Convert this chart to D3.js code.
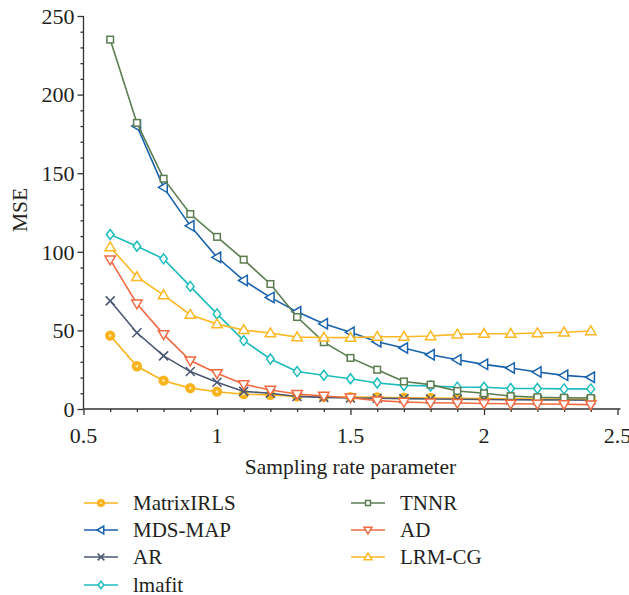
<!DOCTYPE html>
<html>
<head>
<meta charset="utf-8">
<script src="https://cdn.jsdelivr.net/npm/d3@7"></script>
<style>
  html, body { margin: 0; padding: 0; background: #fff; }
  svg { display: block; }
  text { font-family: "Liberation Serif", "DejaVu Serif", serif; fill: #231f20; }
</style>
</head>
<body>
<svg id="chart" width="629" height="595"></svg>
<script>
// Sampling rate parameter values (x) shared by all series
const rates = [0.6, 0.7, 0.8, 0.9, 1.0, 1.1, 1.2, 1.3, 1.4, 1.5, 1.6, 1.7, 1.8, 1.9, 2.0, 2.1, 2.2, 2.3, 2.4];

// MSE per method (null = not measured)
const matrixIRLS = [46.7, 27.2, 18, 13.3, 11, 9.4, 9, 8, 7.8, 7.6, 7.4, 7.2, 7, 6.8, 6.6, 6.5, 6.4, 6.3, 6.2];
const mdsMap     = [null, 180, 141, 116.5, 96.5, 81.8, 71, 61.8, 54.2, 48.8, 42.8, 38.8, 34.5, 31.3, 28.4, 26.1, 23.5, 21.4, 20.2];
const ar         = [68.8, 48.5, 33.8, 23.8, 17, 11.2, 10, 8, 7.4, 7, 6.8, 6.6, 6.4, 6.2, 6, 5.9, 5.8, 5.7, 5.6];
const lmafit     = [111, 103.5, 95.5, 78, 60.5, 43.5, 31.8, 23.8, 21.5, 19.2, 16.5, 15, 14.6, 13.9, 13.8, 13, 13, 12.8, 12.8];
const tnnr       = [235, 182, 146.5, 124, 109.5, 95, 79.5, 58.5, 42.5, 32.5, 25, 17.5, 15.5, 11.5, 10, 8.2, 7.5, 7.2, 7];
const ad         = [95, 67, 47.5, 30.8, 22.7, 15.7, 12.1, 9.5, 8.3, 7.2, 5.3, 4.5, 4, 3.8, 3.5, 3.3, 3.2, 3, 2.8];
const lrmCG      = [103, 84, 72.5, 60, 54, 50.3, 48.3, 45.7, 45.5, 45.4, 46, 46, 46.4, 47.5, 47.9, 47.9, 48.3, 48.8, 49.6];

// Axis tick labels
const xTicks = [0.5, 1, 1.5, 2, 2.5];
const yTicks = [0, 50, 100, 150, 200, 250];

const seriesNames = ["MatrixIRLS", "MDS-MAP", "AR", "lmafit", "TNNR", "AD", "LRM-CG"];
const seriesValues = [matrixIRLS, mdsMap, ar, lmafit, tnnr, ad, lrmCG];
const seriesColors = ["#f9b31c", "#1861ad", "#4b5873", "#1cbcbc", "#5b7d4f", "#f26a43", "#fbb824"];
const seriesMarkers = ["circle", "triLeft", "cross", "diamond", "square", "triDown", "triUp"];

const svg = d3.select("#chart");
const x = d3.scaleLinear().domain([0.5, 2.5]).range([83.5, 617.5]);
const y = d3.scaleLinear().domain([0, 250]).range([409, 16]);

const axisColor = "#333";

// Y axis: major ticks every 50, minor every 10
const yAxis = svg.append("g").attr("transform", `translate(${x(0.5)},0)`);
yAxis.call(d3.axisLeft(y).tickValues(d3.range(0, 251, 10)).tickSize(3).tickFormat(""));
yAxis.call(g => g.selectAll(".tick").filter(d => d % 50 === 0).select("line").attr("x2", -6));
yAxis.selectAll("line, path").attr("stroke", axisColor).attr("stroke-width", 1.3);
yAxis.select(".domain").attr("d", `M0,${y(0)}V${y(250)}`);
svg.append("g").selectAll("text").data(yTicks).join("text")
  .attr("x", x(0.5) - 9).attr("y", d => y(d)).attr("dy", "0.35em")
  .attr("text-anchor", "end").attr("font-size", 22).text(d => d);

// X axis: major ticks every 0.5, minor every 0.1
const xAxis = svg.append("g").attr("transform", `translate(0,${y(0)})`);
xAxis.call(d3.axisBottom(x).tickValues(d3.range(5, 26).map(v => v / 10)).tickSize(3).tickFormat(""));
xAxis.call(g => g.selectAll(".tick").filter(d => Math.abs(d * 2 - Math.round(d * 2)) < 1e-6).select("line").attr("y2", 6));
xAxis.selectAll("line, path").attr("stroke", axisColor).attr("stroke-width", 1.3);
xAxis.select(".domain").attr("d", `M${x(0.5)},0H${x(2.5) + 3}`);
svg.append("g").selectAll("text").data(xTicks).join("text")
  .attr("x", d => x(d)).attr("y", 443)
  .attr("text-anchor", "middle").attr("font-size", 22).text(d => d);

// Axis titles
svg.append("text").attr("x", x(1.5)).attr("y", 474).attr("text-anchor", "middle")
  .attr("font-size", 21.5).text("Sampling rate parameter");
svg.append("text").attr("transform", `translate(27,210) rotate(-90)`).attr("text-anchor", "middle")
  .attr("font-size", 21.5).text("MSE");

// Marker drawing
function drawMarker(g, type, color, s) {
  const sw = 1.5;
  switch (type) {
    case "circle":
      g.append("circle").attr("r", 4.4 * s).attr("fill", color).attr("stroke", color).attr("stroke-width", sw);
      g.append("circle").attr("r", 1.4 * s).attr("fill", "#fde7a8");
      break;
    case "square":
      g.append("rect").attr("x", -3.3 * s).attr("y", -3.3 * s).attr("width", 6.6 * s).attr("height", 6.6 * s)
        .attr("fill", "#fff").attr("stroke", color).attr("stroke-width", sw);
      break;
    case "diamond": {
      const a = 5 * s, b = 3.8 * s;
      g.append("path").attr("d", `M0,${-a}L${b},0L0,${a}L${-b},0Z`)
        .attr("fill", "#fff").attr("stroke", color).attr("stroke-width", sw);
      break;
    }
    case "cross": {
      const a = 4.5 * s;
      g.append("path").attr("d", `M${-a},${-a}L${a},${a}M${-a},${a}L${a},${-a}`)
        .attr("fill", "none").attr("stroke", color).attr("stroke-width", sw);
      break;
    }
    case "triUp": {
      const a = 5.2 * s;
      g.append("path").attr("d", `M0,${-a}L${a},${a * 0.7}L${-a},${a * 0.7}Z`)
        .attr("fill", "#fff").attr("stroke", color).attr("stroke-width", sw);
      break;
    }
    case "triDown": {
      const a = 5.2 * s;
      g.append("path").attr("d", `M0,${a}L${a},${-a * 0.7}L${-a},${-a * 0.7}Z`)
        .attr("fill", "#fff").attr("stroke", color).attr("stroke-width", sw);
      break;
    }
    case "triLeft": {
      const a = 5.2 * s;
      g.append("path").attr("d", `M${-a},0L${a * 0.7},${-a}L${a * 0.7},${a}Z`)
        .attr("fill", "#fff").attr("stroke", color).attr("stroke-width", sw);
      break;
    }
  }
}

// Series lines and markers
const line = d3.line().defined(d => d[1] != null).x(d => x(d[0])).y(d => y(d[1]));
const plot = svg.append("g");
seriesValues.forEach((vals, i) => {
  const pts = rates.map((r, j) => [r, vals[j]]);
  const g = plot.append("g");
  g.append("path").datum(pts).attr("d", line)
    .attr("fill", "none").attr("stroke", seriesColors[i]).attr("stroke-width", 1.6);
  pts.filter(p => p[1] != null).forEach(p => {
    const m = g.append("g").attr("transform", `translate(${x(p[0])},${y(p[1])})`);
    drawMarker(m, seriesMarkers[i], seriesColors[i], 1);
  });
});

// Legend in two columns
const legendCols = [{ lx: 84, tx: 133 }, { lx: 351, tx: 400 }];
const legendRows = [503, 530, 557, 585];
seriesNames.forEach((name, i) => {
  const col = i < 4 ? 0 : 1;
  const row = i < 4 ? i : i - 4;
  const { lx, tx } = legendCols[col];
  const ly = legendRows[row];
  const g = svg.append("g");
  g.append("line").attr("x1", lx).attr("x2", lx + 34).attr("y1", ly).attr("y2", ly)
    .attr("stroke", seriesColors[i]).attr("stroke-width", 1.6);
  const m = g.append("g").attr("transform", `translate(${lx + 17},${ly})`);
  drawMarker(m, seriesMarkers[i], seriesColors[i], 0.75);
  g.append("text").attr("x", tx).attr("y", ly).attr("dy", "0.35em").attr("font-size", 21).text(name);
});
</script>
</body>
</html>
